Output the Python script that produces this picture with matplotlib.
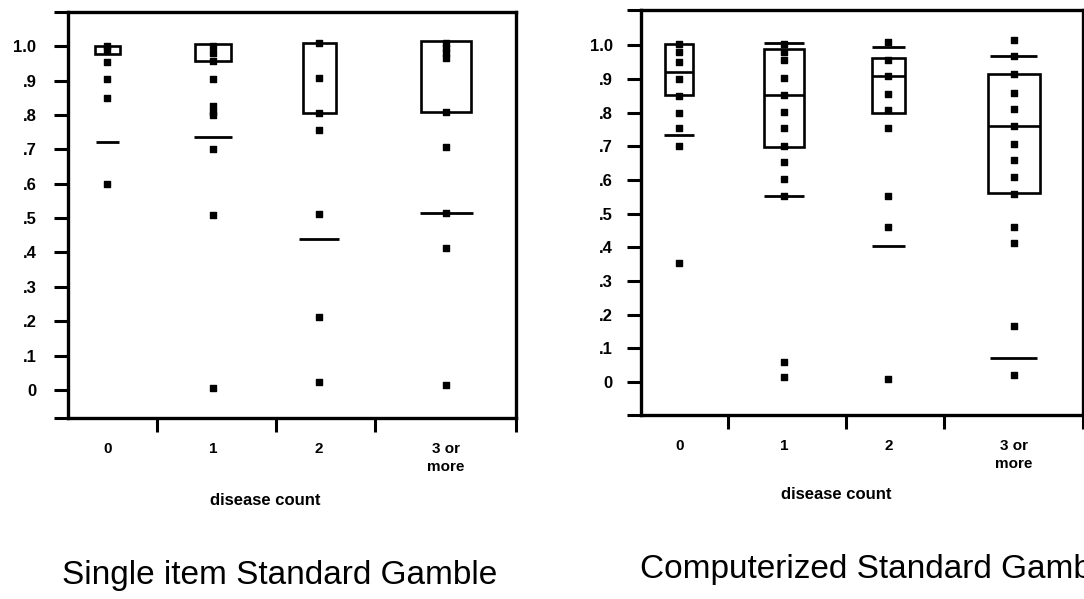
import numpy as np
import matplotlib.pyplot as plt

plt.rcParams['font.family'] = ['Liberation Sans', 'DejaVu Sans']

# categories and y axis labels
categories = ['0', '1', '2', '3 or\nmore']
ytick_values = [0, .1, .2, .3, .4, .5, .6, .7, .8, .9, 1.0]
ytick_labels = ['0', '.1', '.2', '.3', '.4', '.5', '.6', '.7', '.8', '.9', '1.0']

# Single item Standard Gamble
single_q1 = [0.977, 0.958, 0.805, 0.81]
single_med = [np.nan, np.nan, np.nan, np.nan]
single_q3 = [1.0, 1.008, 1.01, 1.015]
single_p90 = [np.nan, np.nan, np.nan, np.nan]
single_p10 = [0.723, 0.737, 0.438, 0.515]
single_pts = [
    [1.0, 0.99, 0.955, 0.905, 0.85, 0.60],
    [1.0, 0.98, 0.958, 0.905, 0.825, 0.81, 0.80, 0.70, 0.51, 0.007],
    [1.01, 0.908, 0.807, 0.757, 0.513, 0.211, 0.023],
    [1.01, 0.995, 0.98, 0.965, 0.81, 0.706, 0.515, 0.414, 0.015],
]

# Computerized Standard Gamble
comp_q1 = [0.852, 0.699, 0.80, 0.56]
comp_med = [0.921, 0.852, 0.908, 0.76]
comp_q3 = [1.005, 0.99, 0.963, 0.914]
comp_p90 = [np.nan, 1.007, 0.995, 0.967]
comp_p10 = [0.733, 0.553, 0.405, 0.073]
comp_pts = [
    [1.005, 0.98, 0.95, 0.90, 0.848, 0.80, 0.753, 0.70, 0.353],
    [1.005, 0.98, 0.956, 0.904, 0.852, 0.802, 0.753, 0.70, 0.654, 0.603,
     0.553, 0.061, 0.014],
    [1.01, 0.955, 0.908, 0.854, 0.807, 0.753, 0.553, 0.461, 0.01],
    [1.015, 0.967, 0.914, 0.859, 0.812, 0.76, 0.708, 0.659, 0.61, 0.557,
     0.461, 0.412, 0.167, 0.02],
]

# layout of the categories along x (uneven spacing as in the original)
pos = np.array([0, 1, 2, 3.2])
separators = [0.47, 1.59, 2.53, 3.86]


def hline_set(ax, ys, widths, lw):
    for x, y, w in zip(pos, ys, widths):
        if not np.isnan(y):
            ax.hlines(y, x - w / 2, x + w / 2, color='black', lw=lw)


def draw_panel(ax, q1, med, q3, p90, p10, pts, box_w, line_w, ylim, ypad):
    ax.bar(pos, np.subtract(q3, q1), bottom=q1, width=box_w, fill=False,
           edgecolor='black', linewidth=1.9)
    hline_set(ax, med, box_w, 1.9)
    hline_set(ax, p90, line_w, 2.0)
    hline_set(ax, p10, line_w, 2.0)
    for x, vals in zip(pos, pts):
        ax.scatter(np.full(len(vals), x), vals, marker='s', s=24,
                   color='black', zorder=3)

    ax.set_xlim(-0.37, 3.86)
    ax.set_ylim(*ylim)
    ax.set_yticks([ylim[0]] + ytick_values + [ylim[1]])
    ax.set_yticklabels([''] + ytick_labels + [''], fontsize=12,
                       fontweight='bold')
    ax.tick_params(axis='y', direction='out', length=10, width=2.2, pad=ypad)
    ax.set_xticks(pos)
    ax.set_xticklabels(categories, fontsize=11, fontweight='bold',
                       linespacing=1.35)
    ax.tick_params(axis='x', which='major', length=0, pad=17)
    ax.set_xticks(separators, minor=True)
    ax.tick_params(axis='x', which='minor', direction='out', length=10,
                   width=2.2)
    for s in ax.spines.values():
        s.set_linewidth(2.4)


fig = plt.figure(figsize=(10.84, 5.99), dpi=100)
ax1 = fig.add_axes([0.063, 0.302, 0.413, 0.678])
ax2 = fig.add_axes([0.591, 0.307, 0.408, 0.676])

draw_panel(ax1, single_q1, single_med, single_q3, single_p90, single_p10,
           single_pts, [0.24, 0.34, 0.31, 0.47], [0.22, 0.36, 0.38, 0.5],
           (-0.082, 1.10), 13)
draw_panel(ax2, comp_q1, comp_med, comp_q3, comp_p90, comp_p10,
           comp_pts, [0.27, 0.38, 0.31, 0.5], [0.29, 0.38, 0.31, 0.45],
           (-0.098, 1.104), 10)

fig.text(0.245, 0.165, 'disease count', ha='center', va='center',
         fontsize=12, fontweight='bold')
fig.text(0.771, 0.175, 'disease count', ha='center', va='center',
         fontsize=12, fontweight='bold')
fig.text(0.057, 0.04, 'Single item Standard Gamble', ha='left',
         va='center', fontsize=24)
fig.text(0.590, 0.05, 'Computerized Standard Gamble', ha='left',
         va='center', fontsize=24)

fig.savefig('out.png', dpi=100)
